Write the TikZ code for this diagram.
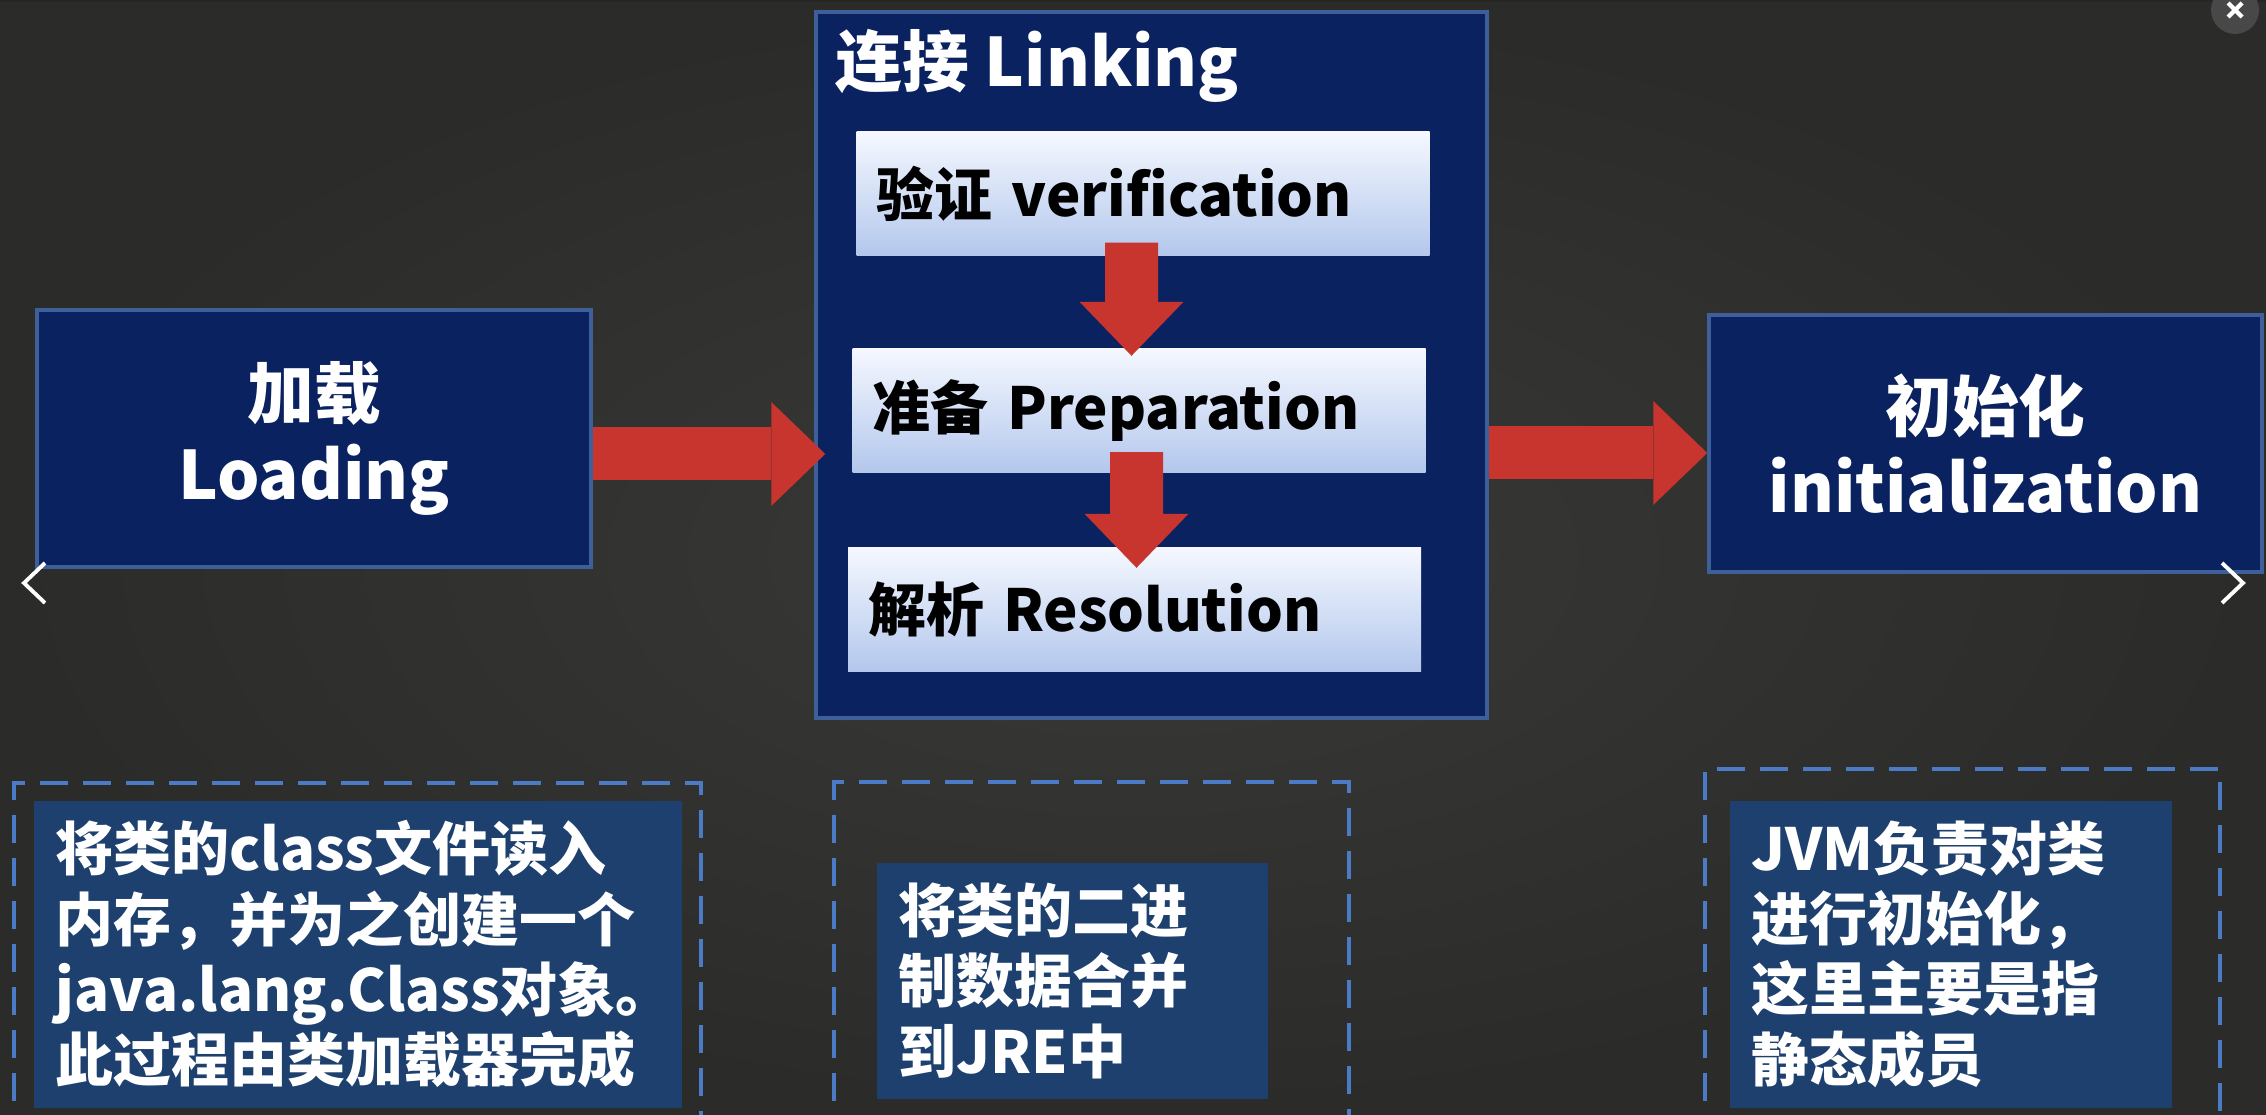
\documentclass[tikz,border=0pt]{standalone}
\usepackage{fontspec}
\setmainfont{Noto Sans CJK SC}
\usepackage{tikz}
\usetikzlibrary{arrows.meta,calc,positioning}
\definecolor{chalkhi}{HTML}{393937}
\definecolor{chalklo}{HTML}{2B2B2A}
\definecolor{navy}{HTML}{0B2261}
\definecolor{navyline}{HTML}{3F5F99}
\definecolor{subtop}{HTML}{F5F8FF}
\definecolor{subbot}{HTML}{B3C7EC}
\definecolor{arrowred}{HTML}{C8342E}
\definecolor{notefill}{HTML}{1D406E}
\definecolor{dashblue}{HTML}{4A7BC4}
\definecolor{btngray}{HTML}{484848}
\tikzset{stage/.style={draw=navyline,line width=1pt,fill=navy,text=white,align=center,inner sep=0pt,
    font=\bfseries\fontsize{19}{23}\selectfont},
  substep/.style={top color=subtop,bottom color=subbot,minimum height=1.24cm,text width=5.33cm,
    inner xsep=0.2cm,align=left,font=\bfseries\fontsize{16.5}{20}\selectfont},
  note/.style={fill=notefill,text=white,align=left,inner xsep=0.22cm,anchor=north west,
    font=\bfseries\fontsize{16.5}{20}\selectfont},
  bigarr/.style={draw=arrowred,line width=5.3mm,-{Triangle[length=5.4mm,width=10.4mm,line width=0pt]}},
  frame/.style={dashblue,line width=1.1pt,dash pattern=on 2.8mm off 1.5mm},
  chev/.style={white,line width=1.1pt}}

\begin{document}
\begin{tikzpicture}
\useasboundingbox (0,0) rectangle (22.66,11.14);
\clip (0,0) rectangle (22.66,11.14);
\shade[inner color=chalkhi,outer color=chalklo] (0,0) rectangle (22.66,11.14);
\fill[black!85] (0,11.12) rectangle (22.66,11.14);

% stages
\node[stage,minimum width=5.54cm,minimum height=2.57cm] (loading) at (3.14,6.755) {加载\\Loading};
\node[stage,minimum width=6.71cm,minimum height=7.06cm] (linking) at (11.515,7.49) {};
\node[stage,minimum width=5.53cm,minimum height=2.57cm] (init) at (19.855,6.705) {初始化\\initialization};
\node[anchor=west,inner sep=0pt,text=white,font=\bfseries\fontsize{19}{23}\selectfont] (linktitle)
  at ($(linking.north west)+(0.21,-0.56)$) {连接 Linking};

\node[substep] (verify) at (11.43,9.20) {验证 verification};
\node[substep] (prep) at (11.39,7.035) {准备 Preparation};
\node[substep] (resol) at (11.345,5.045) {解析 Resolution};

% arrows
\coordinate (a1) at ($(loading.east)+(0,-0.155)$);
\coordinate (a2) at ($(init.west)+(0,-0.095)$);
\draw[bigarr,shorten >=-1.1mm] (a1) -- (a1 -| linking.west);
\draw[bigarr] (a2 -| linking.east) -- (a2);
\draw[bigarr] ($(verify.south)+(-0.115,0.14)$) -- ($(prep.north)+(-0.075,-0.08)$);
\draw[bigarr] ($(prep.south)+(-0.025,0.21)$) -- ($(resol.north)+(0.02,-0.21)$);

% notes
\draw[frame] (0.14,-0.3) rectangle (7.01,3.31);
\draw[frame] (8.34,-0.3) rectangle (13.49,3.32);
\draw[frame] (17.05,-0.3) rectangle (22.20,3.45);
\node[note,text width=6.04cm,minimum height=3.07cm] (loadnote) at (0.33,3.14)
  {将类的class文件读入\\内存，并为之创建一个\\java.lang.Class对象。\\此过程由类加载器完成};
\node[note,text width=3.47cm,minimum height=2.36cm] (linknote) at (8.76,2.52)
  {将类的二进\\制数据合并\\到JRE中};
\node[note,text width=3.98cm,minimum height=3.07cm] (initnote) at (17.29,3.14)
  {JVM负责对类\\进行初始化，\\这里主要是指\\静态成员};

% viewer controls
\draw[chev] (0.45,5.51) -- (0.24,5.31) -- (0.45,5.11);
\draw[chev] (22.22,5.51) -- (22.43,5.31) -- (22.22,5.11);
\fill[btngray] (22.35,11.04) circle (0.24);
\draw[white,line width=1.2pt] (22.28,11.11) -- (22.42,10.97) (22.28,10.97) -- (22.42,11.11);
\end{tikzpicture}
\end{document}
